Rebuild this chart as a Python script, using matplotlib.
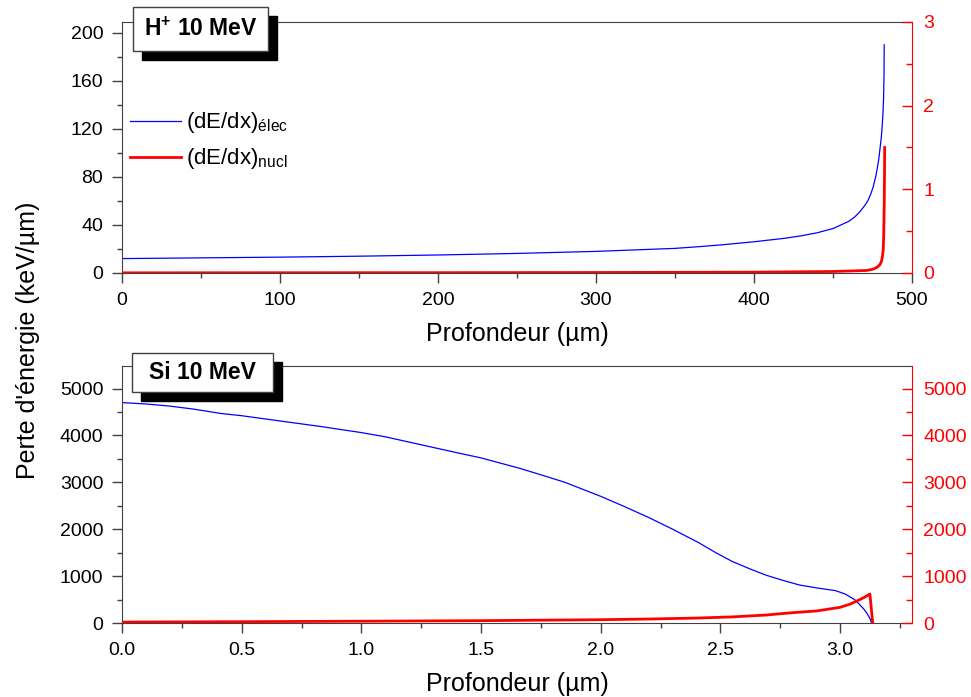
import matplotlib
matplotlib.use('Agg')
import matplotlib.pyplot as plt
from matplotlib.patches import Rectangle
from matplotlib.ticker import MultipleLocator

plt.rcParams['font.family'] = ['Liberation Sans', 'DejaVu Sans']
plt.rcParams['mathtext.fontset'] = 'custom'
plt.rcParams['mathtext.rm'] = 'Liberation Sans'
plt.rcParams['mathtext.it'] = 'Liberation Sans:italic'
plt.rcParams['mathtext.bf'] = 'Liberation Sans:bold'

# H+ 10 MeV : depth (um) vs stopping power
h_elec_x = [0, 50, 100, 150, 200, 250, 300, 350, 366, 380, 400, 420, 430,
            440, 450, 455, 460, 464, 467, 470, 472, 474, 475.5, 477, 478, 479,
            479.7, 480.5, 481, 481.6, 482, 482.3, 482.4]
h_elec_y = [12, 12.6, 13.2, 14, 15, 16.3, 18, 20.5, 22, 23.5, 26, 29, 31,
            33.5, 37, 40, 43, 47, 51, 56, 60, 66, 72, 80, 87, 95,
            103, 112, 120, 132, 145, 165, 190]
h_nucl_x = [0, 100, 200, 300, 400, 450, 471, 474, 476, 478, 479.7, 480.7,
            481.3, 481.8, 482.1, 482.4, 482.6, 482.7]
h_nucl_y = [0.002, 0.003, 0.004, 0.006, 0.01, 0.018, 0.03, 0.04, 0.05, 0.07,
            0.1, 0.14, 0.2, 0.28, 0.45, 0.8, 1.2, 1.5]

# Si 10 MeV
si_elec_x = [0, 0.1, 0.2, 0.3, 0.41, 0.5, 0.6, 0.7, 0.83, 1.0, 1.1, 1.25,
             1.4, 1.5, 1.66, 1.75, 1.85, 2.0, 2.1, 2.2, 2.3, 2.41, 2.48, 2.55,
             2.62, 2.69, 2.76, 2.83, 2.9, 2.98, 3.02, 3.06, 3.08, 3.1, 3.115,
             3.125, 3.131]
si_elec_y = [4700, 4670, 4625, 4560, 4470, 4420, 4350, 4280, 4190, 4060,
             3970, 3800, 3630, 3520, 3300, 3160, 3000, 2700, 2480, 2250, 2000,
             1710, 1500, 1310, 1160, 1020, 910, 810, 750, 690, 620, 500, 400,
             290, 180, 90, 0]
si_nucl_x = [0, 0.5, 1.0, 1.5, 2.0, 2.2, 2.4, 2.55, 2.69, 2.8, 2.9, 2.95, 3.0,
             3.04, 3.07, 3.1, 3.124, 3.136]
si_nucl_y = [20, 28, 38, 50, 70, 85, 105, 130, 170, 220, 256, 295, 335, 400,
             470, 545, 618, 0]

W, H = 971, 697
BLUE = '#0000ff'
RED = '#ff0000'
GREY = '#404040'


def fx(px):
    return px / W


def fy(py):
    return 1 - py / H


def style_axes(ax, ax2):
    for s in ['left', 'bottom', 'top']:
        ax.spines[s].set_color(GREY)
    ax.spines['right'].set_visible(False)
    for s in ['left', 'bottom', 'top']:
        ax2.spines[s].set_visible(False)
    ax2.spines['right'].set_color(RED)
    ax.tick_params(axis='both', which='major', direction='out', length=7,
                   width=1, color=GREY, labelsize=14, pad=6.5, top=False,
                   right=False)
    ax.tick_params(axis='both', which='minor', direction='out', length=3.5,
                   width=1, color=GREY, top=False, right=False)
    ax2.tick_params(axis='y', which='major', direction='in', length=7,
                    width=1, color=RED, labelcolor=RED, labelsize=14, pad=8)
    ax2.tick_params(axis='y', which='minor', direction='in', length=4,
                    width=1, color=RED)


def title_box(x0, y0, x1, y1, text):
    off = 8.5
    shadow = Rectangle((fx(x0 + off), fy(y1 + off)), fx(x1 - x0), (y1 - y0) / H,
                       transform=fig.transFigure, facecolor='black',
                       edgecolor='black', zorder=10)
    box = Rectangle((fx(x0), fy(y1)), fx(x1 - x0), (y1 - y0) / H,
                    transform=fig.transFigure, facecolor='white',
                    edgecolor=GREY, linewidth=1, zorder=11)
    fig.add_artist(shadow)
    fig.add_artist(box)
    fig.text(fx((x0 + x1) / 2), fy((y0 + y1) / 2), text, ha='center',
             va='center', fontsize=16.5, fontweight='bold', zorder=12)


fig = plt.figure(figsize=(9.71, 6.97), dpi=100)

# top panel
ax1 = fig.add_axes([fx(122), fy(273), fx(912 - 122), (273 - 22) / H])
ax1r = ax1.twinx()
l1, = ax1.plot(h_elec_x, h_elec_y, color=BLUE, lw=0.9)
l2, = ax1r.plot(h_nucl_x, h_nucl_y, color=RED, lw=2)
ax1.set_xlim(0, 500)
ax1.set_ylim(0, 209)
ax1r.set_ylim(0, 3)
ax1.xaxis.set_major_locator(MultipleLocator(100))
ax1.xaxis.set_minor_locator(MultipleLocator(50))
ax1.yaxis.set_major_locator(MultipleLocator(40))
ax1.yaxis.set_minor_locator(MultipleLocator(20))
ax1r.yaxis.set_major_locator(MultipleLocator(1))
ax1r.yaxis.set_minor_locator(MultipleLocator(0.5))
style_axes(ax1, ax1r)
ax1.set_xlabel('Profondeur (µm)', fontsize=18, labelpad=9.5)
ax1.legend([l1, l2], [r'(dE/dx)$_{\mathrm{élec}}$', r'(dE/dx)$_{\mathrm{nucl}}$'],
           loc='upper left', bbox_to_anchor=(-0.01, 0.71), frameon=False,
           fontsize=16, handlelength=2.3, handletextpad=0.25,
           labelspacing=0.5, borderaxespad=0.3)

# bottom panel
ax2 = fig.add_axes([fx(122), fy(623), fx(912 - 122), (623 - 366) / H])
ax2r = ax2.twinx()
ax2.plot(si_elec_x, si_elec_y, color=BLUE, lw=0.9)
ax2r.plot(si_nucl_x, si_nucl_y, color=RED, lw=2)
ax2.set_xlim(0, 3.3)
ax2.set_ylim(0, 5480)
ax2r.set_ylim(0, 5480)
ax2.xaxis.set_major_locator(MultipleLocator(0.5))
ax2.xaxis.set_minor_locator(MultipleLocator(0.25))
ax2.xaxis.set_major_formatter(lambda v, p: f'{v:.1f}')
ax2.yaxis.set_major_locator(MultipleLocator(1000))
ax2.yaxis.set_minor_locator(MultipleLocator(500))
ax2r.yaxis.set_major_locator(MultipleLocator(1000))
ax2r.yaxis.set_minor_locator(MultipleLocator(500))
style_axes(ax2, ax2r)
ax2.set_xlabel('Profondeur (µm)', fontsize=18, labelpad=9.5)

fig.text(fx(28), fy(340), "Perte d'énergie (keV/µm)", rotation=90,
         ha='center', va='center', fontsize=18)

title_box(133, 7, 268, 51, r'H$^{\mathbf{+}}$ 10 MeV')
title_box(132, 353, 273, 392, 'Si 10 MeV')

fig.savefig('out.png', dpi=100)
